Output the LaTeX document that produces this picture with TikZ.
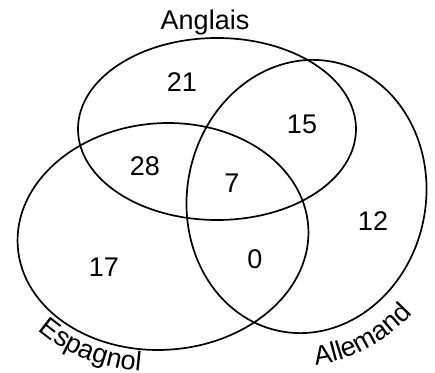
\documentclass[tikz,border=0pt]{standalone}
\usepackage{fontspec}
\setmainfont{Liberation Sans}
\usetikzlibrary{decorations.text}
\begin{document}
\begin{tikzpicture}[x=1pt,y=1pt,
  set/.style={line width=1.7pt},
  num/.style={inner sep=0pt, font=\fontsize{27}{32}\selectfont},
  curvedlabel/.style={decorate, decoration={text along path, text align=center,
    text={|\fontsize{27}{32}\selectfont|#1}}},
]
\useasboundingbox (0,0) rectangle (435,372);

% the three sets
\draw[set] (217,243) ellipse [x radius=139, y radius=91];
\draw[set, rotate around={4:(163,135.5)}] (163,135.5) ellipse [x radius=145.6, y radius=113.3];
\draw[set, rotate around={-11:(306.5,175.5)}] (306.5,175.5) ellipse [x radius=119.3, y radius=137.2];

% set names
\node[num, anchor=base] (anglais) at (205,342.5) {Anglais};
\begin{scope}[shift={(163,135.5)}, rotate=4]
  \path[curvedlabel=Espagnol] (194:168 and 135.5)
    arc[start angle=194, end angle=280, x radius=168, y radius=135.5];
\end{scope}
\begin{scope}[shift={(306.5,175.5)}, rotate=-11]
  \path[curvedlabel=Allemand] (264:152 and 170)
    arc[start angle=264, end angle=346, x radius=152, y radius=170];
\end{scope}

% counts in each region
\node[num] (onlyA)  at (182,289.5) {21};
\node[num] (AL)     at (302,248)   {15};
\node[num] (AE)     at (145,206)   {28};
\node[num] (AEL)    at (232,188.5) {7};
\node[num] (onlyL)  at (373,151)   {12};
\node[num] (onlyE)  at (104,104.5) {17};
\node[num] (EL)     at (255,113)   {0};
\end{tikzpicture}
\end{document}
